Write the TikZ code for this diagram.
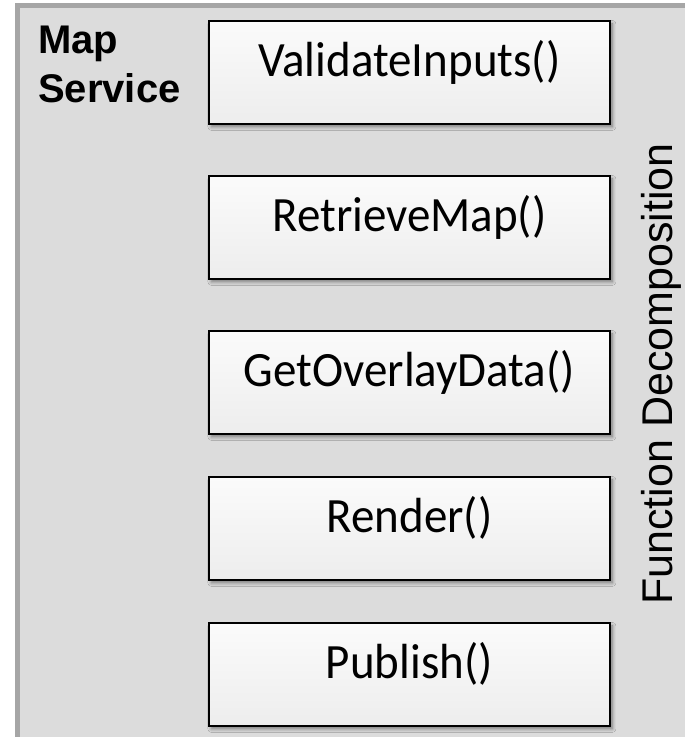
\documentclass[tikz,border=0pt]{standalone}
\usepackage{fontspec}
\usepackage{graphicx}
\setmainfont{Carlito}
\newfontfamily\arialfont{Liberation Sans}
\usetikzlibrary{shadows.blur}

\definecolor{panelfill}{HTML}{DCDCDC}
\definecolor{paneledge}{HTML}{A6A6A6}
\definecolor{boxtop}{HTML}{FBFBFB}
\definecolor{boxbottom}{HTML}{EDEDED}

% slightly tall setting for the function names
\newcommand{\tallname}[1]{\scalebox{1}[1.05]{#1}}

\tikzset{
  funcbox/.style={
    draw=black, line width=1.8pt,
    top color=boxtop, bottom color=boxbottom,
    minimum width=401pt, minimum height=103pt,
    inner sep=0pt, anchor=north west,
    font=\fontsize{47}{56}\selectfont,
    text height=18pt, text depth=10pt,
    blur shadow={shadow xshift=2.5pt, shadow yshift=-3pt,
                 shadow blur radius=3.5pt, shadow blur steps=6,
                 shadow opacity=45}
  },
  titletext/.style={
    anchor=base west, inner sep=0pt,
    font=\arialfont\bfseries\fontsize{40}{48}\selectfont
  },
  sidetext/.style={
    anchor=base, rotate=90, inner sep=0pt,
    font=\arialfont\fontsize{43}{50}\selectfont
  }
}

\begin{document}
\begin{tikzpicture}[x=1pt, y=-1pt]
  \useasboundingbox (0,0) rectangle (685,737);
  \clip (0,0) rectangle (685,737);

  % service panel, running off the right and bottom edges
  \fill[panelfill] (17.5,5.5) rectangle (700,760);
  \draw[paneledge, line width=5pt] (17.5,760) -- (17.5,5.5) -- (700,5.5);

  % panel titles
  \node[titletext] (map) at (38,53) {Map};
  \node[titletext] (service) at (38,102) {Service};
  \node[sidetext] (fd) at (672,374) {Function Decomposition};

  % the decomposed functions
  \node[funcbox] (validate) at (208,20) {\tallname{ValidateInputs()}};
  \node[funcbox] (retrieve) at (208,175) {\tallname{RetrieveMap()}};
  \node[funcbox] (overlay) at (208,330) {\tallname{GetOverlayData()}};
  \node[funcbox] (render) at (208,476) {\tallname{Render()}};
  \node[funcbox] (publish) at (208,622) {\tallname{Publish()}};
\end{tikzpicture}
\end{document}
